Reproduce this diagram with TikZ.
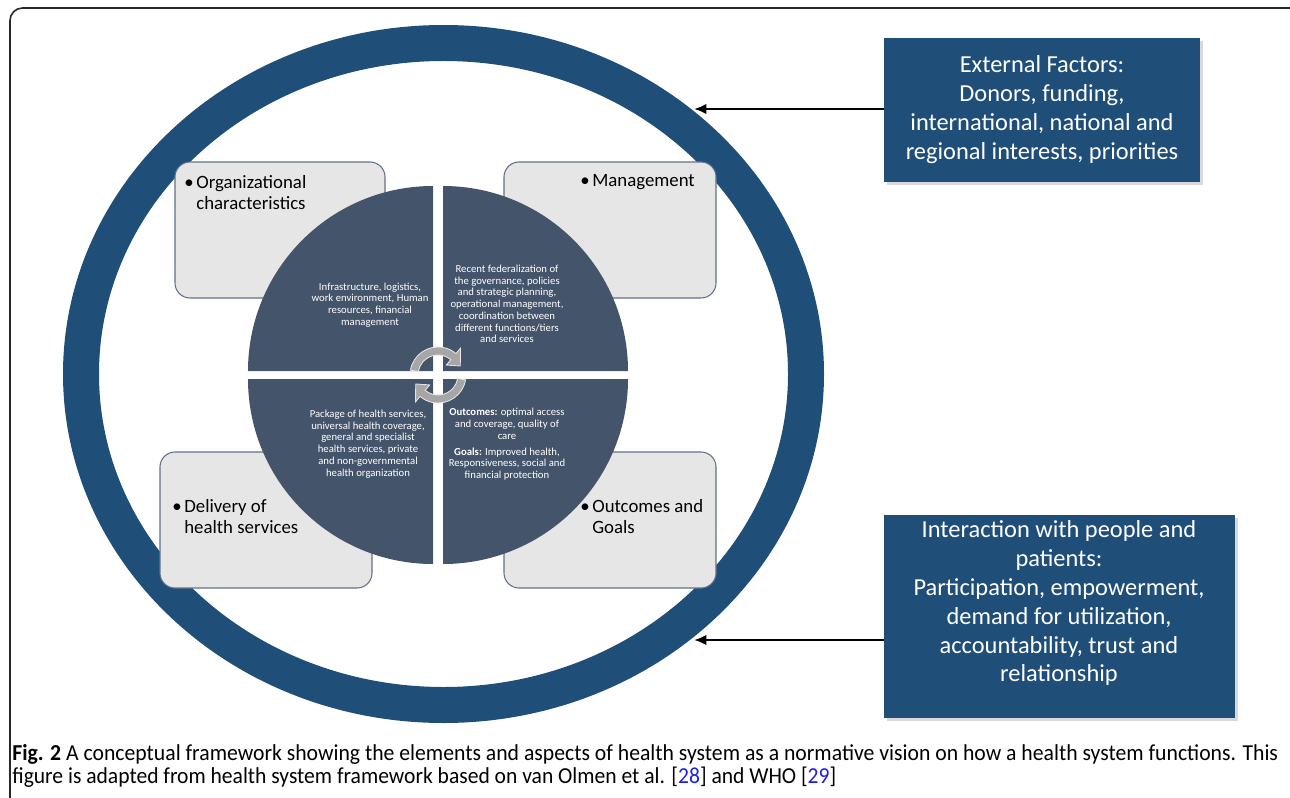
\documentclass[tikz,border=0pt]{standalone}
\usepackage{fontspec}
\setmainfont{Carlito}
\usetikzlibrary{arrows.meta,shadows,calc}
\definecolor{ringblue}{RGB}{31,78,121}
\definecolor{pieslate}{RGB}{68,84,106}
\definecolor{boxgray}{RGB}{231,230,230}
\definecolor{boxedge}{RGB}{96,112,138}
\definecolor{cgray}{RGB}{166,166,166}
\definecolor{citeblue}{RGB}{30,30,230}
\definecolor{framegray}{RGB}{40,40,40}
\newcommand{\bul}{\textbullet\hspace{1.5pt}}
\newcommand{\bulph}{\hphantom{\textbullet\hspace{1.5pt}}}
\begin{document}
\begin{tikzpicture}[x=0.02cm,y=-0.02cm,
  lbox/.style={fill=boxgray,draw=boxedge,line width=0.6pt,rounded corners=0.3cm},
  quad/.style={fill=pieslate},
  ptext/.style={text=white,align=center,inner sep=0pt,font=\fontsize{6.1}{6.7}\selectfont},
  btext/.style={text=black,align=left,inner sep=0pt,font=\fontsize{10.7}{11.9}\selectfont},
  extbox/.style={fill=ringblue,draw=none,drop shadow={shadow xshift=1.5pt,shadow yshift=-1.5pt,opacity=0.3}},
  etext/.style={text=white,align=center,inner sep=0pt,font=\fontsize{13.9}{16.5}\selectfont},
  carrow/.style={fill=cgray,draw=white!80!gray,line width=0.5pt},
  conn/.style={draw=black,line width=1.4pt,-{Latex[length=7pt,width=6pt]}},
  captext/.style={anchor=base west,inner sep=0pt,font=\fontsize{13}{15}\selectfont}
]
\useasboundingbox (0,0) rectangle (1290,797);
% outer frame
\draw[framegray,line width=0.9pt,rounded corners=0.25cm] (10,8) rectangle (1330,840);
% ring
\draw[ringblue,line width=0.72cm] (443.5,374) ellipse [x radius=362.5, y radius=331];
% light boxes
\draw[lbox] (175,162) rectangle (385,298);
\draw[lbox] (504,162) rectangle (716,298);
\draw[lbox] (160,452) rectangle (372,588);
\draw[lbox] (504,452) rectangle (716,588);
% pie quadrants
\fill[quad] (433,371) -- (248,371) arc[start angle=180,end angle=270,radius=185] -- cycle;
\fill[quad] (443,371) -- (443,186) arc[start angle=270,end angle=360,radius=185] -- cycle;
\fill[quad] (443,379) -- (628,379) arc[start angle=0,end angle=90,radius=185] -- cycle;
\fill[quad] (433,379) -- (433,564) arc[start angle=90,end angle=180,radius=185] -- cycle;
% circular arrows
\filldraw[carrow] ([shift={(438,375)}]190:28) arc[start angle=190,end angle=310,radius=28]
  -- ([shift={(438,375)}]310:35) -- ([shift={(438,375)}]338:24) -- ([shift={(438,375)}]310:13)
  -- ([shift={(438,375)}]310:20) arc[start angle=310,end angle=190,radius=20] -- cycle;
\filldraw[carrow] ([shift={(438,375)}]10:28) arc[start angle=10,end angle=130,radius=28]
  -- ([shift={(438,375)}]130:35) -- ([shift={(438,375)}]158:24) -- ([shift={(438,375)}]130:13)
  -- ([shift={(438,375)}]130:20) arc[start angle=130,end angle=10,radius=20] -- cycle;
% box texts
\node[btext,anchor=north west] (org) at (184,175) {\bul Organizational\\\bulph characteristics};
\node[btext,anchor=base west] (mgmt) at (580,187) {\bul Management};
\node[btext,anchor=north west] (deliv) at (172,499) {\bul Delivery of\\\bulph health services};
\node[btext,anchor=north west] (outg) at (580,499) {\bul Outcomes and\\\bulph Goals};
% pie texts
\node[ptext] (tltext) at (370,305) {Infrastructure, logistics,\\work environment, Human\\resources, financial\\management};
\node[ptext] (trtext) at (507,304) {Recent federalization of\\the governance, policies\\and strategic planning,\\operational management,\\coordination between\\different functions/tiers\\and services};
\node[ptext] (bltext) at (368,444) {Package of health services,\\universal health coverage,\\general and specialist\\health services, private\\and non-governmental\\health organization};
\node[ptext] (outtext) at (507,424) {\textbf{Outcomes:} optimal access\\and coverage, quality of\\care};
\node[ptext] (goaltext) at (507,464) {\textbf{Goals:} Improved health,\\Responsiveness, social and\\financial protection};
% external boxes
\node[extbox,minimum width=6.32cm,minimum height=2.88cm,inner sep=0pt] (ext) at (1042,110) {};
\node[etext] (exttext) at (1042,110) {External Factors:\\Donors, funding,\\international, national and\\regional interests, priorities};
\node[extbox,minimum width=7.02cm,minimum height=4.06cm,inner sep=0pt] (inter) at (1059.5,616.5) {};
\node[etext] (intertext) at (1059,603) {Interaction with people and\\patients:\\Participation, empowerment,\\demand for utilization,\\accountability, trust and\\relationship};
% connectors
\coordinate (r1) at (694,109);
\coordinate (r2) at (694,640);
\draw[conn] (r1 -| ext.west) -- (r1);
\draw[conn] (r2 -| inter.west) -- (r2);
% caption
\node[captext] (cap1) at (12,760) {\resizebox{25.32cm}{\height}{\textbf{Fig. 2} A conceptual framework showing the elements and aspects of health system as a normative vision on how a health system functions. This}};
\node[captext] (cap2) at (12,783) {\resizebox{16.48cm}{\height}{figure is adapted from health system framework based on van Olmen et al. [\textcolor{citeblue}{28}] and WHO [\textcolor{citeblue}{29}]}};
\end{tikzpicture}
\end{document}
